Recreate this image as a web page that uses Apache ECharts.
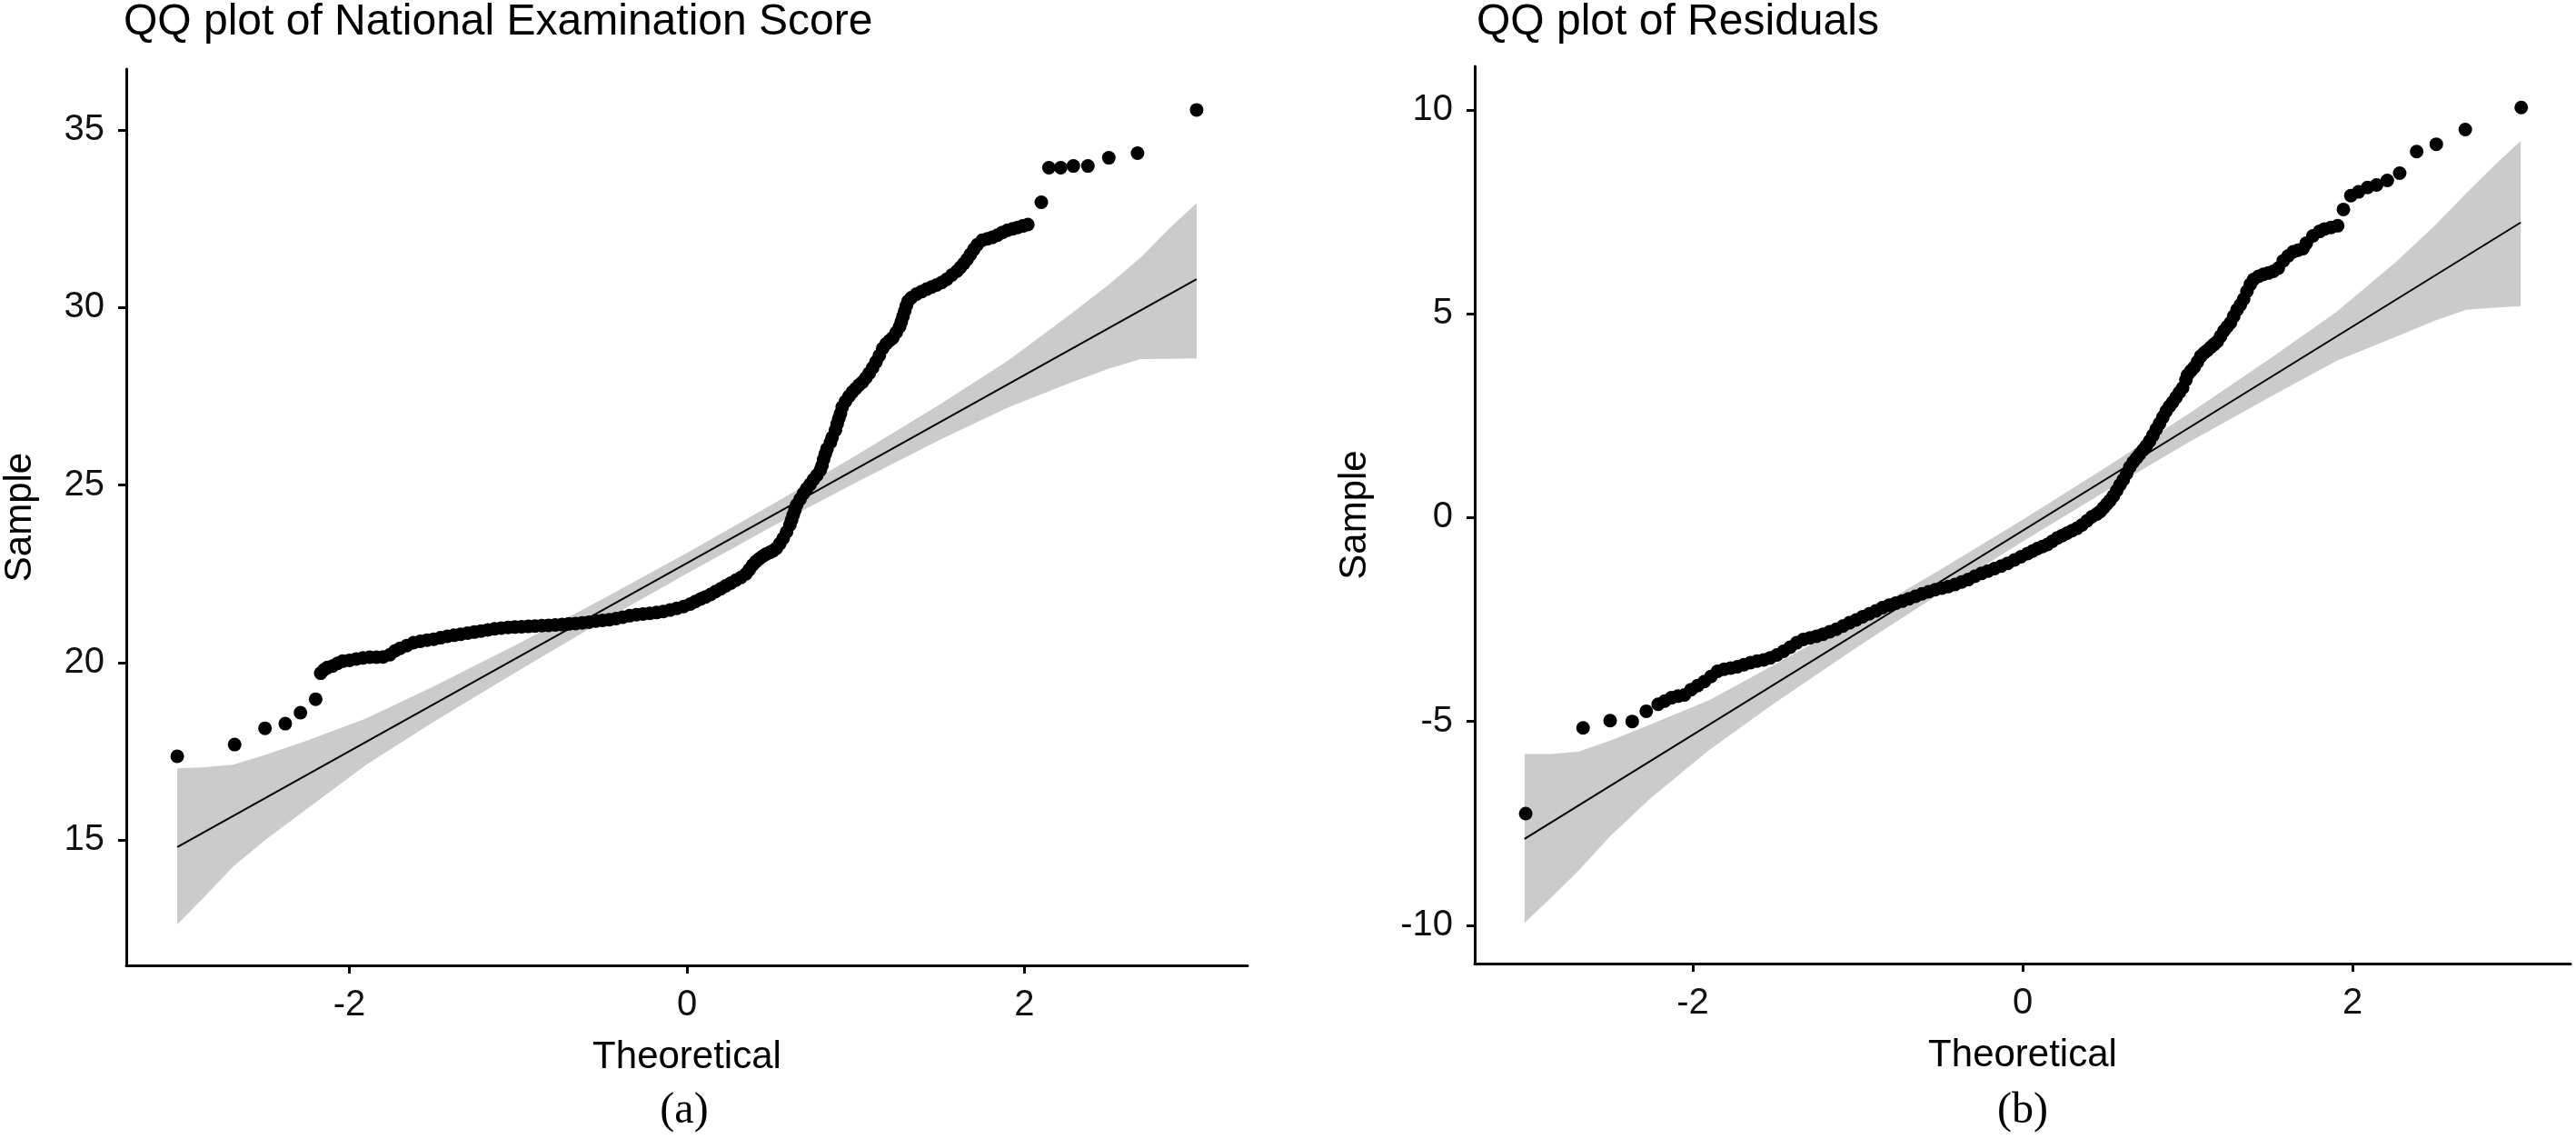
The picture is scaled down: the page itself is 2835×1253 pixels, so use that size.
<!DOCTYPE html>
<html><head><meta charset="utf-8">
<script src="https://cdn.jsdelivr.net/npm/echarts@6/dist/echarts.min.js"></script>
<style>html,body{margin:0;padding:0;background:#fff}#c{width:2835px;height:1253px}</style>
</head><body><div id="c"></div>
<script>
// ---------- tick labels ----------
const xTicks = [-2, 0, 2];
const yTicksA = [15, 20, 25, 30, 35];
const yTicksB = [-10, -5, 0, 5, 10];

// ---------- panel (a): National Examination Score ----------
const pointsA = [
 [-3.02,17.36],[-2.68,17.69],[-2.50,18.15],[-2.38,18.28],[-2.29,18.59],[-2.20,18.97],
 [-2.17,19.70],[-2.15,19.80],[-2.13,19.86],[-2.10,19.90],[-2.07,19.98],[-2.04,20.04],[-2.00,20.06],[-1.96,20.10],
 [-1.92,20.13],[-1.88,20.15],[-1.84,20.15],[-1.80,20.16],[-1.76,20.22],[-1.73,20.33],[-1.70,20.40],[-1.66,20.48],
 [-1.62,20.56],[-1.58,20.60],[-1.54,20.63],[-1.50,20.66],[-1.46,20.70],[-1.42,20.74],[-1.38,20.77],[-1.34,20.80],
 [-1.30,20.83],[-1.26,20.86],[-1.22,20.89],[-1.18,20.92],[-1.14,20.95],[-1.10,20.97],[-1.06,20.99],[-1.02,21.00],
 [-0.98,21.01],[-0.94,21.02],[-0.90,21.03],[-0.86,21.04],[-0.82,21.05],[-0.78,21.06],[-0.74,21.07],[-0.70,21.09],
 [-0.66,21.10],[-0.62,21.12],[-0.58,21.14],[-0.54,21.17],[-0.50,21.19],[-0.46,21.21],[-0.42,21.24],[-0.38,21.28],
 [-0.34,21.32],[-0.30,21.35],[-0.26,21.37],[-0.22,21.39],[-0.18,21.41],[-0.14,21.44],[-0.10,21.48],[-0.06,21.53],
 [-0.02,21.58],[0.02,21.65],[0.05,21.72],[0.08,21.79],[0.11,21.85],[0.14,21.92],[0.17,22.00],[0.20,22.08],
 [0.23,22.16],[0.26,22.24],[0.29,22.32],[0.32,22.40],[0.35,22.50],[0.37,22.62],[0.39,22.75],[0.41,22.85],
 [0.43,22.93],[0.45,23.00],[0.47,23.06],[0.49,23.10],[0.51,23.15],[0.53,23.22],[0.55,23.35],[0.57,23.50],
 [0.59,23.68],[0.61,23.88],[0.62,24.02],[0.63,24.16],[0.64,24.30],[0.65,24.44],[0.67,24.60],[0.69,24.76],
 [0.71,24.90],[0.73,25.02],[0.75,25.16],[0.77,25.28],[0.79,25.42],[0.80,25.55],[0.81,25.72],[0.82,25.88],
 [0.83,26.02],[0.85,26.20],[0.86,26.34],[0.88,26.55],[0.89,26.72],[0.90,26.88],[0.91,27.02],[0.92,27.20],
 [0.94,27.36],[0.96,27.50],[0.98,27.62],[1.00,27.72],[1.02,27.82],[1.04,27.90],[1.06,28.02],[1.08,28.15],
 [1.10,28.30],[1.12,28.47],[1.14,28.65],[1.16,28.85],[1.18,28.98],[1.20,29.07],[1.22,29.15],[1.24,29.30],
 [1.26,29.46],[1.27,29.60],[1.28,29.75],[1.29,29.90],[1.30,30.05],[1.31,30.18],[1.33,30.28],[1.36,30.38],
 [1.39,30.45],[1.42,30.52],[1.45,30.58],[1.48,30.64],[1.51,30.71],[1.54,30.80],[1.57,30.92],[1.60,31.03],
 [1.62,31.13],[1.64,31.24],[1.66,31.36],[1.68,31.50],[1.70,31.64],[1.72,31.77],[1.75,31.90],[1.78,31.94],
 [1.81,31.98],[1.84,32.04],[1.87,32.12],[1.90,32.18],[1.93,32.22],[1.96,32.26],[1.99,32.30],[2.02,32.34],
 [2.10,32.97],[2.145,33.94],[2.215,33.94],[2.29,33.99],[2.376,33.99],[2.50,34.22],[2.67,34.35],[3.02,35.57]
];
const lineA = [[-3.02,14.80],[3.02,30.80]];
const bandXA  = [-3.02,-2.86,-2.69,-2.50,-2.26,-1.90,-1.50,-1.00,-0.50,0,0.50,1.00,1.50,1.90,2.26,2.50,2.69,2.86,3.02];
const bandHiA = [17.02,17.05,17.12,17.40,17.79,18.43,19.33,20.53,21.79,23.09,24.44,25.83,27.28,28.50,29.77,30.65,31.42,32.24,32.94];
const bandLoA = [12.62,13.40,14.25,15.00,15.85,17.12,18.33,19.77,21.17,22.51,23.82,25.07,26.28,27.18,27.86,28.28,28.55,28.56,28.57];

// ---------- panel (b): Residuals ----------
const pointsB = [
 [-3.013,-7.26],[-2.665,-5.16],[-2.501,-4.98],[-2.367,-5.00],[-2.282,-4.75],
 [-2.21,-4.58],[-2.17,-4.50],[-2.13,-4.42],[-2.09,-4.38],[-2.05,-4.35],[-2.01,-4.22],[-1.97,-4.12],[-1.93,-4.02],
 [-1.89,-3.90],[-1.85,-3.77],[-1.81,-3.72],[-1.77,-3.69],[-1.73,-3.66],[-1.69,-3.61],[-1.65,-3.56],[-1.61,-3.52],
 [-1.57,-3.49],[-1.53,-3.44],[-1.49,-3.37],[-1.45,-3.28],[-1.41,-3.18],[-1.37,-3.07],[-1.33,-2.99],[-1.29,-2.95],
 [-1.25,-2.91],[-1.21,-2.86],[-1.17,-2.80],[-1.13,-2.74],[-1.09,-2.66],[-1.05,-2.58],[-1.01,-2.51],[-0.97,-2.43],
 [-0.93,-2.36],[-0.89,-2.29],[-0.85,-2.21],[-0.81,-2.15],[-0.77,-2.10],[-0.73,-2.05],[-0.69,-1.99],[-0.65,-1.93],
 [-0.61,-1.87],[-0.57,-1.82],[-0.53,-1.77],[-0.49,-1.73],[-0.45,-1.69],[-0.41,-1.64],[-0.37,-1.58],[-0.33,-1.52],
 [-0.29,-1.44],[-0.25,-1.37],[-0.21,-1.31],[-0.17,-1.25],[-0.13,-1.19],[-0.09,-1.12],[-0.05,-1.04],[-0.01,-0.96],
 [0.03,-0.88],[0.06,-0.82],[0.09,-0.76],[0.12,-0.71],[0.15,-0.66],[0.18,-0.58],[0.21,-0.50],[0.24,-0.44],
 [0.27,-0.38],[0.30,-0.32],[0.33,-0.26],[0.36,-0.18],[0.39,-0.08],[0.42,0.02],[0.45,0.09],[0.47,0.15],
 [0.49,0.24],[0.51,0.33],[0.53,0.42],[0.55,0.53],[0.57,0.66],[0.59,0.80],[0.61,0.93],[0.63,1.08],
 [0.65,1.24],[0.67,1.36],[0.69,1.46],[0.71,1.56],[0.73,1.66],[0.75,1.76],[0.77,1.88],[0.79,2.02],
 [0.81,2.17],[0.83,2.31],[0.85,2.46],[0.87,2.61],[0.89,2.73],[0.91,2.83],[0.93,2.95],[0.95,3.07],
 [0.97,3.18],[0.99,3.38],[1.00,3.50],[1.02,3.60],[1.04,3.69],[1.06,3.82],[1.08,3.96],[1.10,4.04],
 [1.12,4.10],[1.14,4.18],[1.16,4.25],[1.18,4.32],[1.20,4.45],[1.22,4.58],[1.24,4.68],[1.26,4.78],
 [1.28,4.94],[1.30,5.10],[1.32,5.22],[1.34,5.36],[1.36,5.55],[1.38,5.72],[1.40,5.84],[1.43,5.92],
 [1.46,5.97],[1.49,6.00],[1.52,6.04],[1.55,6.12],[1.58,6.30],[1.61,6.42],[1.64,6.52],[1.67,6.56],
 [1.70,6.60],[1.72,6.73],[1.76,6.91],[1.80,7.02],[1.83,7.08],[1.87,7.12],[1.91,7.16],
 [1.945,7.56],[1.99,7.90],[2.036,7.99],[2.091,8.10],[2.146,8.16],[2.211,8.27],[2.286,8.45],
 [2.389,8.98],[2.508,9.16],[2.684,9.52],[3.023,10.06]
];
const lineB = [[-3.02,-7.88],[3.02,7.24]];
const bandXB  = [-3.02,-2.86,-2.69,-2.50,-2.26,-1.90,-1.50,-1.00,-0.50,0,0.50,1.00,1.50,1.90,2.26,2.50,2.69,2.86,3.02];
const bandHiB = [-5.80,-5.80,-5.74,-5.47,-5.08,-4.48,-3.60,-2.47,-1.28,-0.05,1.22,2.53,3.90,5.04,6.26,7.17,7.96,8.64,9.24];
const bandLoB = [-9.94,-9.33,-8.65,-7.81,-6.90,-5.70,-4.54,-3.17,-1.86,-0.59,0.64,1.83,2.96,3.84,4.43,4.83,5.10,5.15,5.19];

const titles = ['QQ plot of National Examination Score', 'QQ plot of Residuals'];
const captions = ['(a)', '(b)'];

// ---------- chart ----------
const SANS = 'Liberation Sans, Arial, sans-serif';
const SERIF = 'Liberation Serif, Times New Roman, serif';

function bandSeries(idx, bx, hi, lo) {
  return {
    type: 'custom', xAxisIndex: idx, yAxisIndex: idx, silent: true, z: 1,
    data: [[bx[0], lo[0]]],
    renderItem: function (params, api) {
      const pts = [];
      for (let i = 0; i < bx.length; i++) pts.push(api.coord([bx[i], hi[i]]));
      for (let i = bx.length - 1; i >= 0; i--) pts.push(api.coord([bx[i], lo[i]]));
      return { type: 'polygon', shape: { points: pts }, style: { fill: '#CBCBCB' } };
    }
  };
}
function xAxisOf(idx) {
  return {
    gridIndex: idx, type: 'value', min: -3.322, max: 3.322,
    splitLine: { show: false },
    axisLine: { show: true, onZero: false, lineStyle: { color: '#000', width: 3 } },
    axisTick: { show: true, length: 9, customValues: xTicks, lineStyle: { color: '#000', width: 3 } },
    axisLabel: { customValues: xTicks, margin: 24, fontSize: 40, color: '#111', fontFamily: SANS },
    name: 'Theoretical', nameLocation: 'middle', nameGap: 80,
    nameTextStyle: { fontSize: 42, color: '#000', fontFamily: SANS }
  };
}
function yAxisOf(idx, mn, mx, ticks, gap) {
  return {
    gridIndex: idx, type: 'value', min: mn, max: mx,
    splitLine: { show: false },
    axisLine: { show: true, onZero: false, lineStyle: { color: '#000', width: 3 } },
    axisTick: { show: true, length: 9, customValues: ticks, lineStyle: { color: '#000', width: 3 } },
    axisLabel: { customValues: ticks, margin: 24, fontSize: 40, color: '#111', fontFamily: SANS },
    name: 'Sample', nameLocation: 'middle', nameRotate: 90, nameGap: gap,
    nameTextStyle: { fontSize: 42, color: '#000', fontFamily: SANS }
  };
}
function titleOf(text, left) {
  return { text: text, left: left, top: 25, padding: 0, textVerticalAlign: 'middle',
    textStyle: { fontSize: 48, fontWeight: 'normal', color: '#000', fontFamily: SANS } };
}
function captionOf(text, left) {
  return { text: text, left: left, top: 1222, padding: 0, textAlign: 'center', textVerticalAlign: 'middle',
    textStyle: { fontSize: 48, fontWeight: 'normal', color: '#000', fontFamily: SERIF } };
}

const chart = echarts.init(document.getElementById('c'), null, { renderer: 'canvas' });
chart.setOption({
  animation: false,
  backgroundColor: '#fff',
  title: [titleOf(titles[0], 136), titleOf(titles[1], 1625), captionOf(captions[0], 753), captionOf(captions[1], 2226)],
  grid: [
    { left: 135, top: 76, width: 1238, height: 986 },
    { left: 1623, top: 73, width: 1206, height: 987 }
  ],
  xAxis: [xAxisOf(0), xAxisOf(1)],
  yAxis: [yAxisOf(0, 11.47, 36.72, yTicksA, 96), yAxisOf(1, -10.94, 11.07, yTicksB, 111)],
  series: [
    bandSeries(0, bandXA, bandHiA, bandLoA),
    { type: 'line', xAxisIndex: 0, yAxisIndex: 0, data: lineA, showSymbol: false, silent: true, z: 2,
      lineStyle: { color: '#000', width: 2 } },
    { type: 'scatter', xAxisIndex: 0, yAxisIndex: 0, data: pointsA, symbolSize: 15, z: 3,
      itemStyle: { color: '#000', opacity: 1 } },
    bandSeries(1, bandXB, bandHiB, bandLoB),
    { type: 'line', xAxisIndex: 1, yAxisIndex: 1, data: lineB, showSymbol: false, silent: true, z: 2,
      lineStyle: { color: '#000', width: 2 } },
    { type: 'scatter', xAxisIndex: 1, yAxisIndex: 1, data: pointsB, symbolSize: 15, z: 3,
      itemStyle: { color: '#000', opacity: 1 } }
  ]
});
</script>
</body></html>
